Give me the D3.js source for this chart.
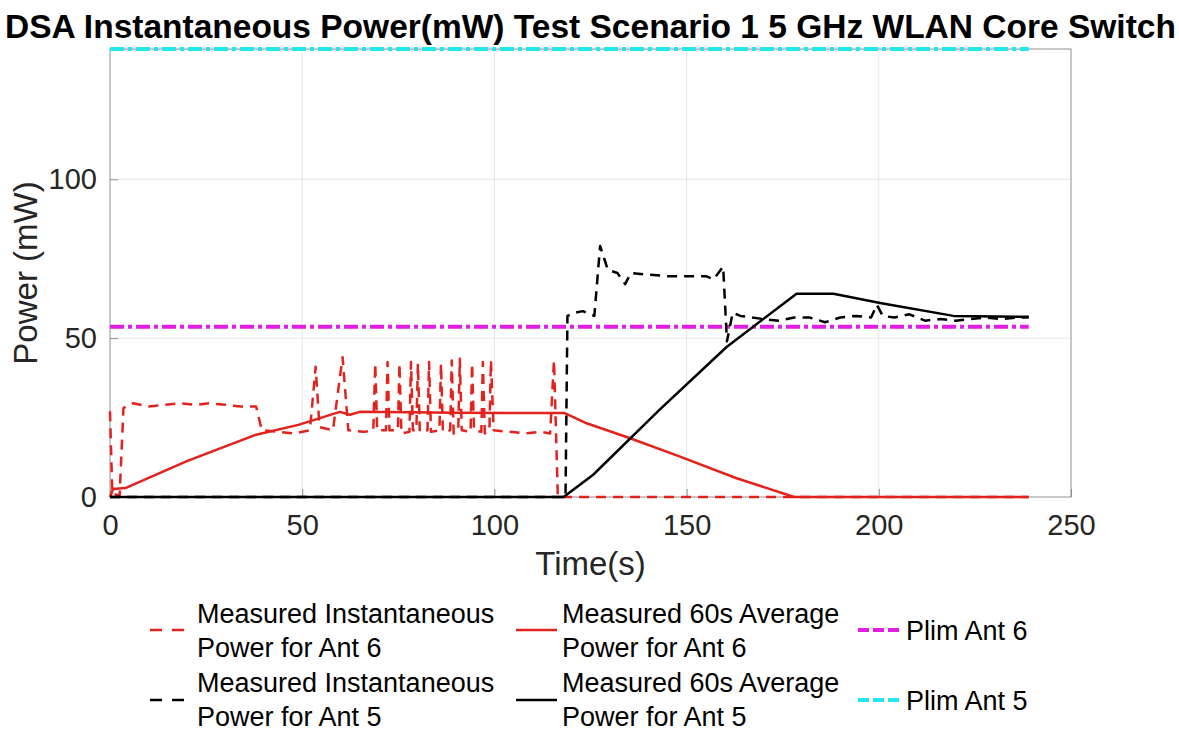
<!DOCTYPE html>
<html>
<head>
<meta charset="utf-8">
<script src="https://cdn.jsdelivr.net/npm/d3@7"></script>
<style>
body { margin: 0; background: #fff; }
text { font-family: "Liberation Sans", Arial, Helvetica, sans-serif; }
</style>
</head>
<body>
<div id="chart"></div>
<script>
// values
const timeTicks = [0, 50, 100, 150, 200, 250];
const powerTicks = [0, 50, 100];

const inst6Time = [0, 0.6, 2.5, 3.5, 6, 10, 14, 18, 22, 26, 30, 34, 38, 39.5, 44, 48, 52, 53.5, 54.5, 58,
  60.5, 62, 66, 68.5, 69, 69.5, 71.8, 72.2, 72.7, 74.9, 75.3, 75.8, 77.9, 78.3, 78.8, 79.7, 80.1, 80.6, 82.6, 83,
  83.5, 85.7, 86.1, 86.6, 88.5, 88.9, 89.4, 90.6, 91, 91.5, 93.8, 94.2, 94.7, 96.6, 97, 97.5, 98.7, 99.1, 99.8, 104,
  108, 112, 114.5, 115.5, 116.5, 120, 239];
const inst6Power = [27, 1, 0.5, 28, 29.5, 28.5, 29, 29.5, 29, 29.5, 29, 28.5, 28.5, 21, 20.5, 20, 21, 41, 22, 21,
  44, 21, 20.5, 21, 42, 21, 21, 42.5, 21, 21, 42, 20, 20.5, 42.5, 21, 21, 42, 20.5, 21, 42.5,
  20.5, 21, 42, 20.5, 21, 43, 20, 21, 43.5, 21, 20.5, 42, 21, 20.5, 42.5, 20, 21, 43, 21, 20.5,
  20, 20.5, 20, 43, 0, 0, 0];

const avg6Time = [0, 0.8, 4, 20, 38, 49, 59.8, 62.4, 65, 90, 118.3, 124, 135.3, 148.3, 163, 178, 239];
const avg6Power = [0, 2.5, 2.8, 11.3, 19.6, 22.7, 26.8, 25.9, 26.8, 26.5, 26.4, 23.2, 18.5, 12.7, 5.9, 0, 0];

const inst5Time = [0, 118.5, 119, 121, 123, 126, 127.5, 129.5, 132, 134, 135.5, 140, 145, 150, 155, 157, 159.5, 160.5, 162, 164,
  167, 170, 174, 178, 182, 186, 190, 194, 198, 199.5, 201, 204, 208, 212, 216, 220, 224, 228, 232, 236, 239];
const inst5Power = [0, 0, 57, 58, 58.5, 57, 79, 71.5, 70.5, 67, 70.5, 70, 69.5, 69.5, 69.5, 68.5, 72.5, 49, 58, 57,
  56.5, 56, 55.5, 56.5, 56.5, 55, 56.5, 57, 56.5, 60.5, 57, 56.5, 57.5, 55.5, 56, 55.5, 56, 56.5, 56, 56.5, 56.5];

const avg5Time = [0, 118, 125.7, 143, 160.4, 178.6, 188.2, 200.7, 219.4, 239];
const avg5Power = [0, 0, 7, 27.5, 47.2, 64, 64, 61, 57, 56.7];

const limTime = [0, 239];
const plimAnt6 = [53.6, 53.6];
const plimAnt5 = [141, 141];

const yMax = 141;

const W = 1179, H = 735;
const margin = {top: 49, right: 108, bottom: 238, left: 110};
const width = W - margin.left - margin.right,
      height = H - margin.top - margin.bottom;

const red = "#e3211d", magenta = "#e31ce6", cyan = "#22e8ee";
const dashStyle = "10,7", dashDot = "14,4,4,4";

const svg = d3.select("#chart")
  .append("svg")
    .attr("width", W)
    .attr("height", H)
    .style("background", "#fff");

const g = svg.append("g")
    .attr("transform", "translate(" + margin.left + "," + margin.top + ")");

var x = d3.scaleLinear().domain([0, 250]).range([0, width]);
var y = d3.scaleLinear().domain([0, yMax]).range([height, 0]);

// grid
g.append("g")
  .selectAll("line")
  .data(timeTicks.slice(1, -1))
  .enter().append("line")
    .attr("x1", d => x(d)).attr("x2", d => x(d))
    .attr("y1", 0).attr("y2", height)
    .attr("stroke", "#e6e6e6");
g.append("g")
  .selectAll("line")
  .data(powerTicks.slice(1))
  .enter().append("line")
    .attr("x1", 0).attr("x2", width)
    .attr("y1", d => y(d)).attr("y2", d => y(d))
    .attr("stroke", "#e6e6e6");

// axes, ticks point inward like matlab
const xAxis = g.append("g")
    .attr("transform", "translate(0," + height + ")")
    .call(d3.axisBottom(x).tickValues(timeTicks).tickSizeInner(-8).tickSizeOuter(0).tickPadding(17));
const yAxis = g.append("g")
    .call(d3.axisLeft(y).tickValues(powerTicks).tickSizeInner(-8).tickSizeOuter(0).tickPadding(13));

[xAxis, yAxis].forEach(a => {
  a.select(".domain").remove();
  a.selectAll(".tick line").attr("stroke", "#8f8f8f");
  a.selectAll("text")
    .attr("fill", "#262626")
    .style("font-size", "29px")
    .style("font-family", "'Liberation Sans', Arial, sans-serif");
});
xAxis.selectAll("text").attr("dy", "0.71em");

// box
g.append("rect")
    .attr("x", 0).attr("y", 0)
    .attr("width", width).attr("height", height)
    .attr("fill", "none")
    .attr("stroke", "#8f8f8f")
    .attr("stroke-width", 1);

// lines
const line = d3.line()
    .x(d => x(d[0]))
    .y(d => y(d[1]));

const series = [
  {t: inst6Time, v: inst6Power, color: red, dash: dashStyle, w: 2.5},
  {t: avg6Time, v: avg6Power, color: red, dash: null, w: 2.5},
  {t: limTime, v: plimAnt6, color: magenta, dash: dashDot, w: 4},
  {t: inst5Time, v: inst5Power, color: "#000", dash: dashStyle, w: 2.5},
  {t: avg5Time, v: avg5Power, color: "#000", dash: null, w: 2.5},
  {t: limTime, v: plimAnt5, color: cyan, dash: dashDot, w: 4}
];

series.forEach(s => {
  g.append("path")
    .datum(d3.zip(s.t, s.v))
    .attr("fill", "none")
    .attr("stroke", s.color)
    .attr("stroke-width", s.w)
    .attr("stroke-dasharray", s.dash)
    .attr("stroke-linejoin", "round")
    .attr("d", line);
});

// titles
svg.append("text")
    .attr("x", margin.left + width / 2)
    .attr("y", 38)
    .attr("text-anchor", "middle")
    .style("font-size", "33.5px")
    .style("font-weight", "bold")
    .attr("fill", "#000")
    .text("DSA Instantaneous Power(mW) Test Scenario 1 5 GHz WLAN Core Switch");

svg.append("text")
    .attr("x", margin.left + width / 2)
    .attr("y", 575)
    .attr("text-anchor", "middle")
    .style("font-size", "33px")
    .attr("fill", "#262626")
    .text("Time(s)");

svg.append("text")
    .attr("transform", "translate(37," + (margin.top + height / 2) + ")rotate(-90)")
    .attr("text-anchor", "middle")
    .style("font-size", "33px")
    .attr("fill", "#262626")
    .text("Power (mW)");

// legend
const legendItems = [
  {lines: ["Measured Instantaneous", "Power for Ant 6"], color: red, dash: "12,10", w: 2.5, x1: 150, x2: 184, tx: 197, row: 0},
  {lines: ["Measured Instantaneous", "Power for Ant 5"], color: "#000", dash: "12,10", w: 2.5, x1: 150, x2: 184, tx: 197, row: 1},
  {lines: ["Measured 60s Average", "Power for Ant 6"], color: red, dash: null, w: 2.5, x1: 516, x2: 557, tx: 562, row: 0},
  {lines: ["Measured 60s Average", "Power for Ant 5"], color: "#000", dash: null, w: 2.5, x1: 516, x2: 557, tx: 562, row: 1},
  {lines: ["Plim Ant 6"], color: magenta, dash: "11,4", w: 4, x1: 858, x2: 903, tx: 906, row: 0},
  {lines: ["Plim Ant 5"], color: cyan, dash: "11,4", w: 4, x1: 858, x2: 903, tx: 906, row: 1}
];
const rowBase = [623, 692];
const rowSym = [630, 700];

const legend = svg.append("g");
legendItems.forEach(it => {
  legend.append("line")
    .attr("x1", it.x1).attr("x2", it.x2)
    .attr("y1", rowSym[it.row]).attr("y2", rowSym[it.row])
    .attr("stroke", it.color)
    .attr("stroke-width", it.w)
    .attr("stroke-dasharray", it.dash);
  it.lines.forEach((l, i) => {
    legend.append("text")
      .attr("x", it.tx)
      .attr("y", it.lines.length == 1 ? rowSym[it.row] + 10 : rowBase[it.row] + i * 34)
      .style("font-size", "27px")
      .attr("fill", "#000")
      .text(l);
  });
});
</script>
</body>
</html>
